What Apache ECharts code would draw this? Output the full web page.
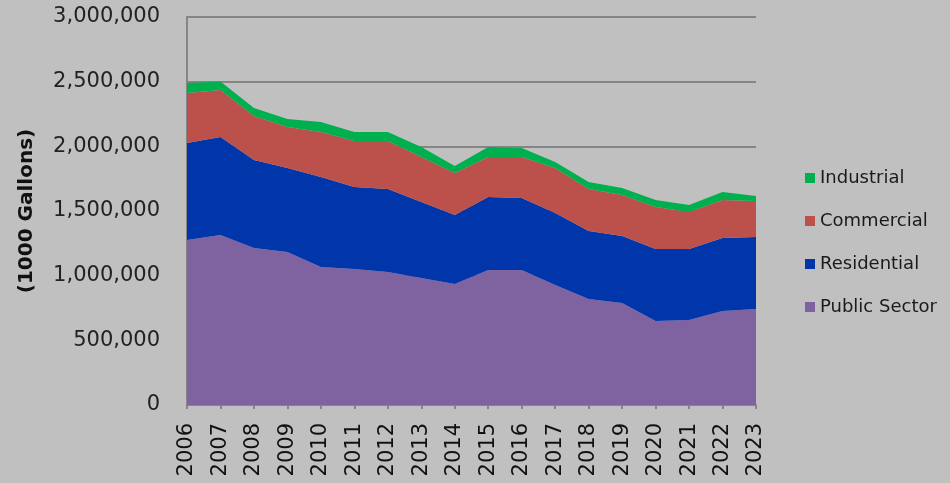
<!DOCTYPE html>
<html>
<head>
<meta charset="utf-8">
<script src="https://cdn.jsdelivr.net/npm/echarts@6/dist/echarts.min.js"></script>
<style>
  html, body { margin: 0; padding: 0; background: #c0c0c0; }
  #main { width: 950px; height: 483px; }
</style>
</head>
<body>
<div id="main"></div>
<script>
// years on the x axis
var years = ['2006','2007','2008','2009','2010','2011','2012','2013','2014',
             '2015','2016','2017','2018','2019','2020','2021','2022','2023'];

// values in 1000 gallons
var publicSector = [1276000,1315000,1214000,1183000,1067000,1052000,1029000,982000,936000,
                    1044000,1044000,928000,820000,789000,650000,657000,727000,742000];
var residential  = [750000,758000,681000,650000,696000,634000,641000,588000,533000,
                    565000,557000,557000,526000,518000,556000,549000,565000,557000];
var commercial   = [387000,363000,340000,317000,348000,356000,372000,348000,325000,
                    309000,317000,348000,324000,317000,325000,287000,293000,279000];
var industrial   = [77000,65000,62000,62000,78000,69000,69000,77000,54000,
                    77000,70000,46000,55000,54000,54000,54000,62000,38000];

var myChart = echarts.init(document.getElementById('main'));

function area(name, data, color) {
    return {
        name: name,
        type: 'line',
        stack: 'total',
        data: data,
        showSymbol: false,
        lineStyle: { width: 0 },
        itemStyle: { color: color },
        areaStyle: { color: color, opacity: 1 }
    };
}

var option = {
    backgroundColor: '#c0c0c0',
    animation: false,
    grid: { left: 187, right: 194, top: 17, bottom: 78 },
    legend: {
        orient: 'vertical',
        left: 800,
        top: 163,
        itemWidth: 10,
        itemHeight: 10,
        itemGap: 23,
        icon: 'rect',
        textStyle: { fontFamily: 'DejaVu Sans', fontSize: 18, color: '#1a1a1a', lineHeight: 20 },
        data: ['Industrial', 'Commercial', 'Residential', 'Public Sector']
    },
    xAxis: {
        type: 'category',
        data: years,
        boundaryGap: false,
        axisLine: { lineStyle: { color: '#858585', width: 2 } },
        axisTick: { show: true, inside: false, length: 4, alignWithLabel: true,
                    lineStyle: { color: '#858585', width: 2 } },
        axisLabel: { rotate: 90, margin: 18, fontFamily: 'DejaVu Sans', fontSize: 21, color: '#111',
                     interval: 0 }
    },
    yAxis: {
        type: 'value',
        min: 0,
        max: 3000000,
        interval: 500000,
        name: '(1000 Gallons)',
        nameLocation: 'middle',
        nameGap: 150,
        nameTextStyle: { fontFamily: 'DejaVu Sans', fontWeight: 'bold', fontSize: 20, color: '#111' },
        axisLine: { show: true, lineStyle: { color: '#858585', width: 2 } },
        axisTick: { show: false },
        splitLine: { lineStyle: { color: '#858585', width: 2 } },
        axisLabel: {
            margin: 27,
            fontFamily: 'DejaVu Sans',
            fontSize: 21,
            color: '#222',
            formatter: function (v) { return v.toLocaleString('en-US'); }
        }
    },
    series: [
        area('Public Sector', publicSector, '#7f63a1'),
        area('Residential', residential, '#0036aa'),
        area('Commercial', commercial, '#bc514c'),
        area('Industrial', industrial, '#00b04f')
    ]
};

myChart.setOption(option);
</script>
</body>
</html>
